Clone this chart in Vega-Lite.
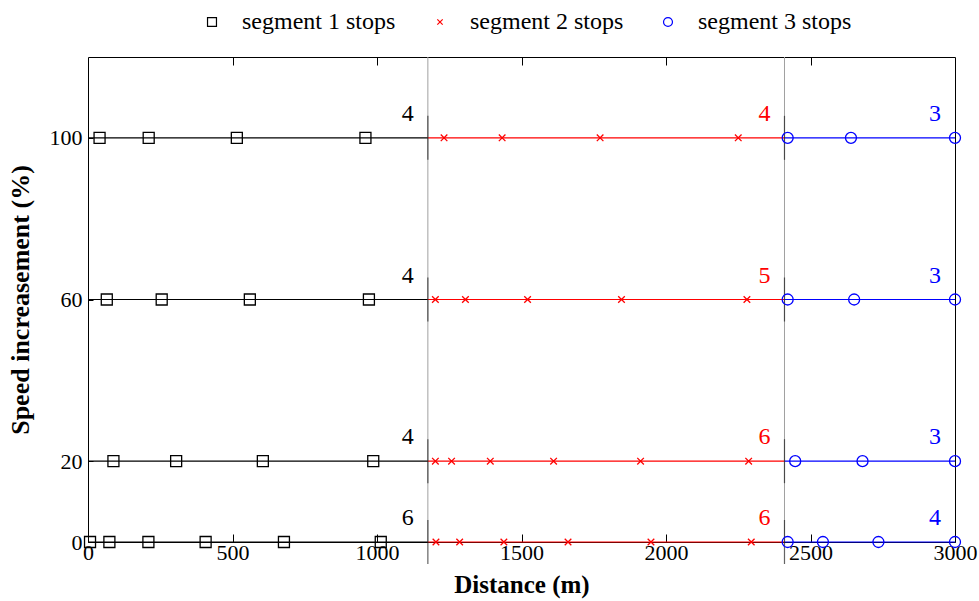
{
  "$schema": "https://vega.github.io/schema/vega-lite/v6.json",
  "width": 867,
  "height": 485,
  "autosize": {"type": "none"},
  "padding": {"left": 88, "top": 57, "right": 24, "bottom": 59},
  "background": "white",
  "config": {
    "view": {"stroke": "black", "strokeWidth": 1},
    "axis": {"grid": false, "domain": false, "labelFlush": false, "labelFont": "Liberation Serif", "labelFontSize": 22, "labelColor": "black", "tickColor": "black", "titleFont": "Liberation Serif", "titleFontSize": 25, "titleFontWeight": "bold", "titleColor": "black"},
    "legend": {"labelFont": "Liberation Serif", "labelFontSize": 24, "labelColor": "black"}
  },
  "datasets": {
    "seps": [{"sep": 1176}, {"sep": 2410}],
    "lines": [
      {"level": 100, "segment": "segment 1 stops", "start": 0, "end": 1176},
      {"level": 100, "segment": "segment 2 stops", "start": 1176, "end": 2410},
      {"level": 100, "segment": "segment 3 stops", "start": 2410, "end": 3000},
      {"level": 60, "segment": "segment 1 stops", "start": 0, "end": 1176},
      {"level": 60, "segment": "segment 2 stops", "start": 1176, "end": 2410},
      {"level": 60, "segment": "segment 3 stops", "start": 2410, "end": 3000},
      {"level": 20, "segment": "segment 1 stops", "start": 0, "end": 1176},
      {"level": 20, "segment": "segment 2 stops", "start": 1176, "end": 2410},
      {"level": 20, "segment": "segment 3 stops", "start": 2410, "end": 3000},
      {"level": 0, "segment": "segment 1 stops", "start": 0, "end": 1176},
      {"level": 0, "segment": "segment 2 stops", "start": 1176, "end": 2410},
      {"level": 0, "segment": "segment 3 stops", "start": 2410, "end": 3000}
    ],
    "marks": [
      {"level": 100, "sep": 1176}, {"level": 100, "sep": 2410},
      {"level": 60, "sep": 1176}, {"level": 60, "sep": 2410},
      {"level": 20, "sep": 1176}, {"level": 20, "sep": 2410},
      {"level": 0, "sep": 1176}, {"level": 0, "sep": 2410}
    ],
    "stops": [
      {"segment": "segment 1 stops", "level": 100, "distance": 40},
      {"segment": "segment 1 stops", "level": 100, "distance": 210},
      {"segment": "segment 1 stops", "level": 100, "distance": 515},
      {"segment": "segment 1 stops", "level": 100, "distance": 960},
      {"segment": "segment 1 stops", "level": 60, "distance": 65},
      {"segment": "segment 1 stops", "level": 60, "distance": 255},
      {"segment": "segment 1 stops", "level": 60, "distance": 560},
      {"segment": "segment 1 stops", "level": 60, "distance": 972},
      {"segment": "segment 1 stops", "level": 20, "distance": 88},
      {"segment": "segment 1 stops", "level": 20, "distance": 305},
      {"segment": "segment 1 stops", "level": 20, "distance": 605},
      {"segment": "segment 1 stops", "level": 20, "distance": 987},
      {"segment": "segment 1 stops", "level": 0, "distance": 7},
      {"segment": "segment 1 stops", "level": 0, "distance": 74},
      {"segment": "segment 1 stops", "level": 0, "distance": 209},
      {"segment": "segment 1 stops", "level": 0, "distance": 407},
      {"segment": "segment 1 stops", "level": 0, "distance": 678},
      {"segment": "segment 1 stops", "level": 0, "distance": 1013},
      {"segment": "segment 2 stops", "level": 100, "distance": 1232},
      {"segment": "segment 2 stops", "level": 100, "distance": 1433},
      {"segment": "segment 2 stops", "level": 100, "distance": 1772},
      {"segment": "segment 2 stops", "level": 100, "distance": 2250},
      {"segment": "segment 2 stops", "level": 60, "distance": 1202},
      {"segment": "segment 2 stops", "level": 60, "distance": 1306},
      {"segment": "segment 2 stops", "level": 60, "distance": 1521},
      {"segment": "segment 2 stops", "level": 60, "distance": 1846},
      {"segment": "segment 2 stops", "level": 60, "distance": 2280},
      {"segment": "segment 2 stops", "level": 20, "distance": 1202},
      {"segment": "segment 2 stops", "level": 20, "distance": 1258},
      {"segment": "segment 2 stops", "level": 20, "distance": 1392},
      {"segment": "segment 2 stops", "level": 20, "distance": 1611},
      {"segment": "segment 2 stops", "level": 20, "distance": 1912},
      {"segment": "segment 2 stops", "level": 20, "distance": 2286},
      {"segment": "segment 2 stops", "level": 0, "distance": 1204},
      {"segment": "segment 2 stops", "level": 0, "distance": 1286},
      {"segment": "segment 2 stops", "level": 0, "distance": 1439},
      {"segment": "segment 2 stops", "level": 0, "distance": 1661},
      {"segment": "segment 2 stops", "level": 0, "distance": 1948},
      {"segment": "segment 2 stops", "level": 0, "distance": 2295},
      {"segment": "segment 3 stops", "level": 100, "distance": 2421},
      {"segment": "segment 3 stops", "level": 100, "distance": 2640},
      {"segment": "segment 3 stops", "level": 100, "distance": 3000},
      {"segment": "segment 3 stops", "level": 60, "distance": 2421},
      {"segment": "segment 3 stops", "level": 60, "distance": 2651},
      {"segment": "segment 3 stops", "level": 60, "distance": 3000},
      {"segment": "segment 3 stops", "level": 20, "distance": 2447},
      {"segment": "segment 3 stops", "level": 20, "distance": 2680},
      {"segment": "segment 3 stops", "level": 20, "distance": 3000},
      {"segment": "segment 3 stops", "level": 0, "distance": 2421},
      {"segment": "segment 3 stops", "level": 0, "distance": 2543},
      {"segment": "segment 3 stops", "level": 0, "distance": 2735},
      {"segment": "segment 3 stops", "level": 0, "distance": 3000}
    ],
    "counts": [
      {"level": 100, "segment": "segment 1 stops", "end": 1176, "count": 4},
      {"level": 100, "segment": "segment 2 stops", "end": 2410, "count": 4},
      {"level": 100, "segment": "segment 3 stops", "end": 3000, "count": 3},
      {"level": 60, "segment": "segment 1 stops", "end": 1176, "count": 4},
      {"level": 60, "segment": "segment 2 stops", "end": 2410, "count": 5},
      {"level": 60, "segment": "segment 3 stops", "end": 3000, "count": 3},
      {"level": 20, "segment": "segment 1 stops", "end": 1176, "count": 4},
      {"level": 20, "segment": "segment 2 stops", "end": 2410, "count": 6},
      {"level": 20, "segment": "segment 3 stops", "end": 3000, "count": 3},
      {"level": 0, "segment": "segment 1 stops", "end": 1176, "count": 6},
      {"level": 0, "segment": "segment 2 stops", "end": 2410, "count": 6},
      {"level": 0, "segment": "segment 3 stops", "end": 3000, "count": 4}
    ]
  },
  "resolve": {"axis": {"x": "independent"}},
  "layer": [
    {
      "data": {"name": "seps"},
      "mark": {"type": "rule", "color": "#a0a0a0", "strokeWidth": 1},
      "encoding": {
        "x": {"field": "sep", "type": "quantitative", "scale": {"domain": [0, 3000], "nice": false, "zero": false},
          "axis": {"orient": "top", "labels": false, "values": [500, 1000, 1500, 2000, 2500], "tickSize": -8, "title": null}}
      }
    },
    {
      "data": {"name": "lines"},
      "mark": {"type": "rule", "strokeWidth": 1.2},
      "encoding": {
        "x": {"field": "start", "type": "quantitative",
          "axis": {"orient": "bottom", "values": [0, 500, 1000, 1500, 2000, 2500, 3000], "format": "d", "tickSize": -8, "labelPadding": 8, "title": "Distance (m)", "titlePadding": 9}},
        "x2": {"field": "end"},
        "y": {"field": "level", "type": "quantitative", "scale": {"domain": [0, 120], "nice": false},
          "axis": {"values": [0, 20, 60, 100], "tickSize": -5, "labelPadding": 11, "title": "Speed increasement (%)", "titleFontSize": 26, "titlePadding": 16}},
        "color": {"field": "segment", "type": "nominal", "scale": {"domain": ["segment 1 stops", "segment 2 stops", "segment 3 stops"], "range": ["black", "red", "blue"]}}
      }
    },
    {
      "data": {"name": "marks"},
      "mark": {"type": "tick", "orient": "vertical", "size": 44, "thickness": 1.2, "color": "#222"},
      "encoding": {
        "x": {"field": "sep", "type": "quantitative", "axis": null},
        "y": {"field": "level", "type": "quantitative", "title": "Speed increasement (%)"}
      }
    },
    {
      "data": {"name": "stops"},
      "mark": {"type": "point", "filled": false, "strokeWidth": 1.3, "size": 121, "opacity": 1},
      "encoding": {
        "x": {"field": "distance", "type": "quantitative", "axis": null},
        "y": {"field": "level", "type": "quantitative", "title": "Speed increasement (%)"},
        "color": {"field": "segment", "type": "nominal",
          "legend": {"orient": "none", "legendX": 112, "legendY": -47, "direction": "horizontal", "columns": 3, "title": null, "symbolSize": 80, "symbolStrokeWidth": 1.2, "symbolFillColor": "transparent", "labelOffset": 18, "columnPadding": 32}},
        "shape": {"field": "segment", "type": "nominal", "scale": {"domain": ["segment 1 stops", "segment 2 stops", "segment 3 stops"], "range": ["square", "M-0.6,-0.6L0.6,0.6M-0.6,0.6L0.6,-0.6", "circle"]},
          "legend": {"orient": "none", "legendX": 112, "legendY": -47, "direction": "horizontal", "columns": 3, "title": null, "symbolSize": 80, "symbolStrokeWidth": 1.2, "symbolFillColor": "transparent", "labelOffset": 18, "columnPadding": 32}}
      }
    },
    {
      "data": {"name": "counts"},
      "transform": [{"filter": {"field": "segment", "equal": "segment 1 stops"}}],
      "mark": {"type": "text", "font": "Liberation Serif", "fontSize": 24, "align": "right", "baseline": "middle", "dx": -14, "dy": -24, "color": "black"},
      "encoding": {
        "x": {"field": "end", "type": "quantitative", "axis": null},
        "y": {"field": "level", "type": "quantitative", "title": "Speed increasement (%)"},
        "text": {"field": "count", "type": "quantitative"}
      }
    },
    {
      "data": {"name": "counts"},
      "transform": [{"filter": {"field": "segment", "equal": "segment 2 stops"}}],
      "mark": {"type": "text", "font": "Liberation Serif", "fontSize": 24, "align": "right", "baseline": "middle", "dx": -14, "dy": -24, "color": "red"},
      "encoding": {
        "x": {"field": "end", "type": "quantitative", "axis": null},
        "y": {"field": "level", "type": "quantitative", "title": "Speed increasement (%)"},
        "text": {"field": "count", "type": "quantitative"}
      }
    },
    {
      "data": {"name": "counts"},
      "transform": [{"filter": {"field": "segment", "equal": "segment 3 stops"}}],
      "mark": {"type": "text", "font": "Liberation Serif", "fontSize": 24, "align": "right", "baseline": "middle", "dx": -14, "dy": -24, "color": "blue"},
      "encoding": {
        "x": {"field": "end", "type": "quantitative", "axis": null},
        "y": {"field": "level", "type": "quantitative", "title": "Speed increasement (%)"},
        "text": {"field": "count", "type": "quantitative"}
      }
    }
  ]
}
